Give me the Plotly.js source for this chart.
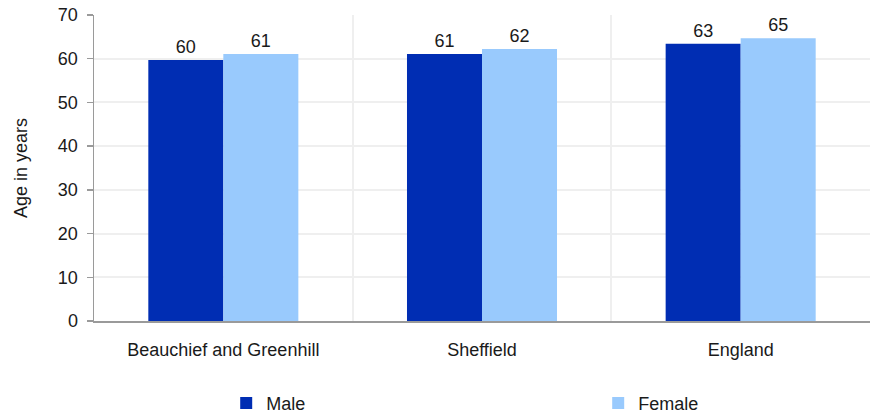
<!DOCTYPE html>
<html><head><meta charset="utf-8">
<script src="https://cdn.plot.ly/plotly-3.0.1.min.js"></script>
<style>html,body{margin:0;padding:0;background:#fff}#chart{width:870px;height:414px}</style>
</head><body><div id="chart"></div>
<script>
const categories = ["Beauchief and Greenhill", "Sheffield", "England"];
const maleValues = [59.7, 61.1, 63.4];
const femaleValues = [61.1, 62.2, 64.7];
const seriesNames = ["Male", "Female"];
const yTicks = [0, 10, 20, 30, 40, 50, 60, 70];

const fam = "Liberation Sans, Arial, sans-serif";
const ink = "#1a1a1a";
const traces = [
  {type: "bar", name: seriesNames[0], x: categories, y: maleValues,
   marker: {color: "#002DB3"}, texttemplate: "%{y:.0f}", textposition: "outside",
   textfont: {family: fam, size: 18, color: ink}, cliponaxis: false, hoverinfo: "none"},
  {type: "bar", name: seriesNames[1], x: categories, y: femaleValues,
   marker: {color: "#99CAFD"}, texttemplate: "%{y:.0f}", textposition: "outside",
   textfont: {family: fam, size: 18, color: ink}, cliponaxis: false, hoverinfo: "none"}
];
const layout = {
  width: 870, height: 414,
  margin: {l: 94, r: 0, t: 15, b: 93, autoexpand: false},
  paper_bgcolor: "#fff", plot_bgcolor: "#fff",
  font: {family: fam, size: 18, color: ink},
  barmode: "group", bargap: 0.42, bargroupgap: 0,
  showlegend: true,
  legend: {orientation: "h", xref: "container", yref: "container", x: 0.26, xanchor: "left",
           y: 0.026, yanchor: "middle", entrywidth: 327, entrywidthmode: "pixels",
           font: {size: 18, color: ink}, traceorder: "normal", bgcolor: "rgba(0,0,0,0)"},
  xaxis: {type: "category", tickson: "boundaries", showgrid: true, gridcolor: "#efefef", gridwidth: 2,
          showline: true, linecolor: "#9a9a9a", linewidth: 2, ticks: "", tickfont: {size: 18, color: ink},
          ticklabelstandoff: 11, zeroline: false},
  yaxis: {range: [0, 70], tickvals: yTicks, showgrid: true, gridcolor: "#efefef", gridwidth: 2,
          showline: true, linecolor: "#9a9a9a", linewidth: 1.5, ticks: "outside", ticklen: 6,
          tickcolor: "#9a9a9a", tickwidth: 1.5, tickfont: {size: 18, color: ink}, zeroline: false,
          ticklabelstandoff: 5,
          title: {text: "Age in years", font: {size: 18, color: ink}, standoff: 25}}
};
Plotly.newPlot("chart", traces, layout, {displayModeBar: false, staticPlot: true});
</script></body></html>
